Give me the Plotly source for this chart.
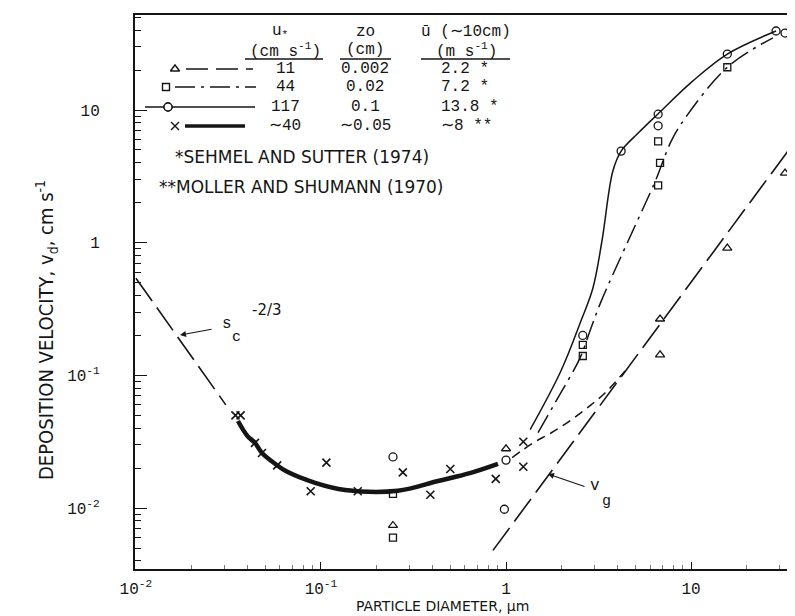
import plotly.graph_objects as go

# ---------------- data (particle diameter in um, deposition velocity in cm/s) -------------
cross_x = [0.0345, 0.0368, 0.044, 0.048, 0.058, 0.088, 0.107, 0.158, 0.277, 0.39, 0.50, 0.88, 1.24, 1.24]
cross_y = [0.050, 0.050, 0.031, 0.026, 0.021, 0.0134, 0.022, 0.0134, 0.0186, 0.0126, 0.0197, 0.0166, 0.0316, 0.0205]
circle_x = [0.245, 1.0, 0.98, 2.6, 4.19, 6.64, 6.64, 15.7, 28.8, 32.2]
circle_y = [0.0243, 0.023, 0.0098, 0.20, 4.9, 9.3, 7.6, 26.4, 39.4, 38.0]
square_x = [0.245, 0.245, 2.6, 2.6, 6.64, 6.8, 6.64, 15.7]
square_y = [0.0128, 0.006, 0.17, 0.14, 5.8, 4.0, 2.7, 21.0]
tri_x = [0.245, 1.0, 6.8, 6.8, 15.7, 32.2]
tri_y = [0.0074, 0.028, 0.266, 0.143, 0.91, 3.35]

thick_x = [0.0356, 0.040, 0.044, 0.048, 0.058, 0.0646, 0.093, 0.135, 0.26, 0.43, 0.645, 0.905]
thick_y = [0.0453, 0.035, 0.031, 0.026, 0.021, 0.019, 0.0155, 0.0137, 0.0135, 0.016, 0.0184, 0.0215]
solid_x = [1.35, 1.98, 2.54, 2.95, 3.3, 3.78, 4.19, 5.18, 6.6, 10.2, 15.7, 28.8]
solid_y = [0.039, 0.108, 0.257, 0.456, 1.03, 3.47, 4.9, 6.7, 9.3, 16.5, 26.4, 39.4]
dashdot_x = [1.49, 1.91, 2.51, 2.88, 3.27, 4.57, 6.4, 7.8, 9.3, 15.7, 27.7]
dashdot_y = [0.037, 0.068, 0.135, 0.228, 0.363, 1.03, 2.9, 5.8, 8.7, 21.0, 35.0]
dash_x = [1.08, 1.4, 1.75, 2.24, 2.88, 3.43, 4.4]
dash_y = [0.024, 0.031, 0.0368, 0.046, 0.060, 0.0737, 0.108]
vg_x = [0.85, 40.0]
vg_y = [0.0048, 6.9]
sc_x = [0.01, 0.0306]
sc_y = [0.54, 0.060]

tick_vals = [0.01, 0.1, 1, 10]
x_tick_text = ["10<sup>-2</sup>", "10<sup>-1</sup>", "1", "10"]
y_tick_vals = [0.01, 0.1, 1, 10]
y_tick_text = ["10<sup>-2</sup>", "10<sup>-1</sup>", "1", "10"]

legend_u = ["11", "44", "117", "∼40"]
legend_z0 = ["0.002", "0.02", "0.1", "∼0.05"]
legend_ubar = ["2.2 *", "7.2 *", "13.8 *", "∼8 **"]

INK = "#151515"
NUM_FONT = "Liberation Mono"
CAP_FONT = "DejaVu Sans"

W, H = 795, 616
L, R, T, B = 127, 0, 7, 55
X0, X1 = L, W - R
Y0, Y1 = H - B, T


def px(x):
    return (x - X0) / (X1 - X0)


def py(y):
    return (Y0 - y) / (Y0 - Y1)


fig = go.Figure()

# ---------------- curves ----------------
fig.add_trace(go.Scatter(x=sc_x, y=sc_y, mode="lines",
                         line=dict(color=INK, width=1.6, dash="28px,8px")))
fig.add_trace(go.Scatter(x=vg_x, y=vg_y, mode="lines",
                         line=dict(color=INK, width=1.6, dash="28px,8px")))
fig.add_trace(go.Scatter(x=thick_x, y=thick_y, mode="lines",
                         line=dict(color=INK, width=4.5, shape="spline")))
fig.add_trace(go.Scatter(x=solid_x, y=solid_y, mode="lines",
                         line=dict(color=INK, width=1.5, shape="spline")))
fig.add_trace(go.Scatter(x=dashdot_x, y=dashdot_y, mode="lines",
                         line=dict(color=INK, width=1.5, shape="spline", dash="20px,6px,3px,6px")))
fig.add_trace(go.Scatter(x=dash_x, y=dash_y, mode="lines",
                         line=dict(color=INK, width=1.5, shape="spline", dash="9px,6px")))

# ---------------- markers ----------------
fig.add_trace(go.Scatter(x=cross_x, y=cross_y, mode="markers",
                         marker=dict(symbol="x-thin-open", size=8, color=INK, line=dict(color=INK, width=1.6))))
fig.add_trace(go.Scatter(x=circle_x, y=circle_y, mode="markers",
                         marker=dict(symbol="circle-open", size=8, color=INK, line=dict(width=1.3))))
fig.add_trace(go.Scatter(x=square_x, y=square_y, mode="markers",
                         marker=dict(symbol="square-open", size=7, color=INK, line=dict(width=1.3))))
fig.add_trace(go.Scatter(x=tri_x, y=tri_y, mode="markers",
                         marker=dict(symbol="triangle-up-open", size=8, color=INK, line=dict(width=1.3))))

# ---------------- legend table drawn on a pixel overlay ----------------
rows_y = [61, 79, 99, 118]
leg_lines = [
    dict(x=[178, 245], dash="22px,8px", width=1.5),
    dict(x=[167, 248], dash="20px,6px,3px,6px", width=1.5),
    dict(x=[137, 247], dash="solid", width=1.5),
    dict(x=[177, 237], dash="solid", width=3.5),
]
leg_marks = [(167, "triangle-up-open", 8), (158, "square-open", 7), (160, "circle-open", 8), (167, "x-thin-open", 8)]
for ry, ln, (mx, sym, sz) in zip(rows_y, leg_lines, leg_marks):
    fig.add_trace(go.Scatter(x=ln["x"], y=[ry, ry], mode="lines", xaxis="x2", yaxis="y2",
                             line=dict(color=INK, width=ln["width"], dash=ln["dash"])))
    fig.add_trace(go.Scatter(x=[mx], y=[ry], mode="markers", xaxis="x2", yaxis="y2",
                             marker=dict(symbol=sym, size=sz, color=INK, line=dict(color=INK, width=1.4))))
    if sym == "circle-open":
        fig.add_trace(go.Scatter(x=[mx], y=[ry], mode="markers", xaxis="x2", yaxis="y2",
                                 marker=dict(symbol="circle", size=sz, color="white",
                                             line=dict(color=INK, width=1.4))))
for x0, x1 in [(237, 315), (332, 383), (413, 502)]:
    fig.add_trace(go.Scatter(x=[x0, x1], y=[51, 51], mode="lines", xaxis="x2", yaxis="y2",
                             line=dict(color=INK, width=1.3)))

ann = []


def txt(x, y, s, size=16, family=NUM_FONT, xanchor="center", angle=0):
    ann.append(dict(x=px(x), y=py(y), xref="paper", yref="paper", text=s, showarrow=False,
                    xanchor=xanchor, yanchor="middle", textangle=angle, borderpad=0,
                    font=dict(family=family, size=size, color=INK)))


txt(272, 24, "u<sub>*</sub>")
txt(277, 42, "(cm s<sup>-1</sup>)")
txt(357, 24, "zo")
txt(357, 42, "(cm)")
txt(458, 24, "ū (∼10cm)")
txt(458, 42, "(m s<sup>-1</sup>)")
for ry, a, b, c in zip(rows_y, legend_u, legend_z0, legend_ubar):
    txt(277, ry, a)
    txt(357, ry, b)
    txt(432, ry, c, xanchor="left")
txt(166, 149, "*SEHMEL AND SUTTER (1974)", size=17, family=CAP_FONT, xanchor="left")
txt(150, 179, "**MOLLER AND SHUMANN (1970)", size=17, family=CAP_FONT, xanchor="left")

# s_c^-2/3 label and arrow
txt(219, 316, "s", size=16)
txt(228, 329, "c", size=15)
txt(259, 302, "-2/3", size=15, family=CAP_FONT)
ann.append(dict(x=172, y=327, ax=205, ay=321, xref="x2", yref="y2", axref="x2", ayref="y2",
                text="", showarrow=True, arrowhead=2, arrowsize=1, arrowwidth=1.2, arrowcolor=INK))
# v_g label and arrow
txt(587, 478, "v", size=16)
txt(598, 493, "g", size=15)
ann.append(dict(x=540, y=466, ax=578, ay=479, xref="x2", yref="y2", axref="x2", ayref="y2",
                text="", showarrow=True, arrowhead=2, arrowsize=1, arrowwidth=1.2, arrowcolor=INK))

# axis titles
txt(434, 598, "PARTICLE DIAMETER, μm", size=14, family=CAP_FONT)
txt(38, 322, "DEPOSITION VELOCITY, v<sub>d</sub>, cm s<sup>-1</sup>", size=20,
    family="DejaVu Sans Condensed", angle=-90)

minor_x = [m * 10 ** e for e in range(-2, 2) for m in range(2, 10)]
minor_y = [m * 10 ** e for e in range(-3, 2) for m in range(2, 10)]

fig.update_layout(
    width=W, height=H, margin=dict(l=L, r=R, t=T, b=B),
    paper_bgcolor="white", plot_bgcolor="white", showlegend=False,
    xaxis=dict(type="log", range=[-2.005, 1.605], tickvals=tick_vals, ticktext=x_tick_text,
               ticks="inside", ticklen=7, tickwidth=1, tickcolor=INK,
               showline=True, linecolor=INK, linewidth=2, mirror=True, showgrid=False, zeroline=False,
               tickfont=dict(family=NUM_FONT, size=16, color=INK), ticklabelstandoff=4,
               minor=dict(tickmode="array", tickvals=minor_x, ticks="inside", ticklen=4, tickcolor="#777", showgrid=False)),
    yaxis=dict(type="log", range=[-2.459, 1.716], tickvals=y_tick_vals, ticktext=y_tick_text,
               ticks="inside", ticklen=12, tickwidth=1.2, tickcolor=INK,
               showline=True, linecolor=INK, linewidth=2, mirror=False, showgrid=False, zeroline=False,
               tickfont=dict(family=NUM_FONT, size=16, color=INK), ticklabelstandoff=30,
               minor=dict(tickmode="array", tickvals=minor_y, ticks="inside", ticklen=6, tickcolor=INK, showgrid=False)),
    xaxis2=dict(overlaying="x", range=[X0, X1], visible=False, anchor="y2", fixedrange=True),
    yaxis2=dict(overlaying="y", range=[Y0, Y1], visible=False, anchor="x2", fixedrange=True),
    annotations=ann,
)

fig.write_html("out.html")
